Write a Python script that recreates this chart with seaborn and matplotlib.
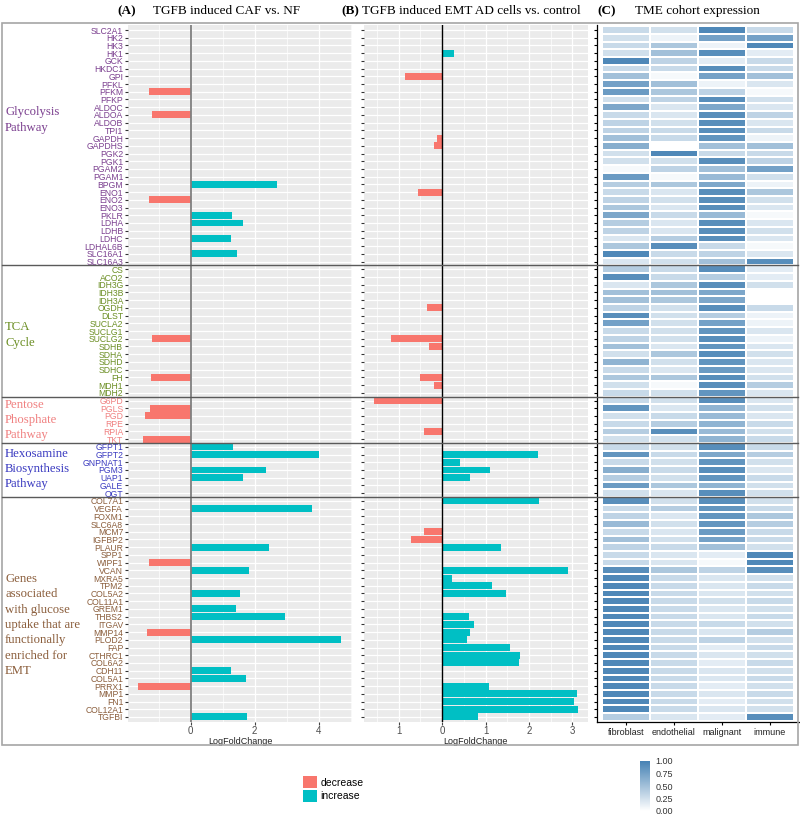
import matplotlib
matplotlib.use("Agg")
import matplotlib.pyplot as plt
import seaborn as sns
import pandas as pd
import numpy as np
from matplotlib.colors import LinearSegmentedColormap
from matplotlib.patches import Patch, Rectangle
from matplotlib.lines import Line2D

# --- gene groups (top to bottom) ---
glyco_genes = ["SLC2A1", "HK2", "HK3", "HK1", "GCK", "HKDC1", "GPI", "PFKL", "PFKM", "PFKP",
               "ALDOC", "ALDOA", "ALDOB", "TPI1", "GAPDH", "GAPDHS", "PGK2", "PGK1", "PGAM2",
               "PGAM1", "BPGM", "ENO1", "ENO2", "ENO3", "PKLR", "LDHA", "LDHB", "LDHC",
               "LDHAL6B", "SLC16A1", "SLC16A3"]
tca_genes = ["CS", "ACO2", "IDH3G", "IDH3B", "IDH3A", "OGDH", "DLST", "SUCLA2", "SUCLG1",
             "SUCLG2", "SDHB", "SDHA", "SDHD", "SDHC", "FH", "MDH1", "MDH2"]
ppp_genes = ["G6PD", "PGLS", "PGD", "RPE", "RPIA", "TKT"]
hex_genes = ["GFPT1", "GFPT2", "GNPNAT1", "PGM3", "UAP1", "GALE", "OGT"]
emt_genes = ["COL7A1", "VEGFA", "FOXM1", "SLC6A8", "MCM7", "IGFBP2", "PLAUR", "SPP1", "WIPF1",
             "VCAN", "MXRA5", "TPM2", "COL5A2", "COL11A1", "GREM1", "THBS2", "ITGAV", "MMP14",
             "PLOD2", "FAP", "CTHRC1", "COL6A2", "CDH11", "COL5A1", "PRRX1", "MMP1", "FN1",
             "COL12A1", "TGFBI"]

group_names = ["Glycolysis\nPathway", "TCA\nCycle", "Pentose\nPhosphate\nPathway",
               "Hexosamine\nBiosynthesis\nPathway",
               "Genes\nassociated\nwith glucose\nuptake that are\nfunctionally\nenriched for\nEMT"]
group_colors = ["#7B3F8F", "#6B8E23", "#F08080", "#3A3AC0", "#8B5E3C"]
groups = [glyco_genes, tca_genes, ppp_genes, hex_genes, emt_genes]

# --- panel A: TGFB induced CAF vs. NF ---
a_genes = ["PFKM", "ALDOA", "BPGM", "ENO2", "PKLR", "LDHA", "LDHC", "SLC16A1", "SUCLG2", "FH",
           "PGLS", "PGD", "TKT", "GFPT1", "GFPT2", "PGM3", "UAP1", "VEGFA", "PLAUR", "WIPF1",
           "VCAN", "COL5A2", "GREM1", "THBS2", "MMP14", "PLOD2", "CDH11", "COL5A1", "PRRX1",
           "TGFBI"]
a_lfc = [-1.30, -1.20, 2.69, -1.30, 1.29, 1.62, 1.26, 1.44, -1.21, -1.24,
         -1.26, -1.43, -1.48, 1.33, 4.02, 2.34, 1.62, 3.79, 2.45, -1.29,
         1.81, 1.54, 1.40, 2.96, -1.37, 4.71, 1.26, 1.72, -1.65, 1.77]

# --- panel B: TGFB induced EMT AD cells vs. control ---
b_genes = ["HK1", "GPI", "GAPDH", "GAPDHS", "ENO1", "OGDH", "SUCLG2", "SDHB", "FH", "MDH1",
           "G6PD", "RPIA", "GFPT2", "GNPNAT1", "PGM3", "UAP1", "COL7A1", "MCM7", "IGFBP2",
           "PLAUR", "VCAN", "MXRA5", "TPM2", "COL5A2", "THBS2", "ITGAV", "MMP14", "PLOD2",
           "FAP", "CTHRC1", "COL6A2", "PRRX1", "MMP1", "FN1", "COL12A1", "TGFBI"]
b_lfc = [0.27, -0.85, -0.12, -0.18, -0.56, -0.35, -1.18, -0.31, -0.51, -0.18,
         -1.57, -0.43, 2.21, 0.41, 1.09, 0.63, 2.22, -0.43, -0.72,
         1.36, 2.90, 0.22, 1.15, 1.46, 0.61, 0.74, 0.63, 0.58,
         1.56, 1.79, 1.76, 1.07, 3.10, 3.03, 3.12, 0.83]

# --- panel C: TME cohort expression (scaled 0..1) ---
cell_types = ["fibroblast", "endothelial", "malignant", "immune"]
fibroblast = [0.30, 0.25, 0.30, 0.25, 0.95, 0.30, 0.50, 0.75, 0.80, 0.25, 0.70, 0.30, 0.35, 0.35,
              0.50, 0.65, 0.25, 0.25, 0.05, 0.80, 0.40, 0.30, 0.35, 0.45, 0.70, 0.40, 0.35, 0.20,
              0.45, 0.95, 0.20,
              0.40, 0.90, 0.20, 0.50, 0.50, 0.35, 0.90, 0.75, 0.30, 0.35, 0.50, 0.25, 0.60, 0.30,
              0.45, 0.25, 0.30,
              0.30, 0.85, 0.25, 0.30, 0.40, 0.25,
              0.30, 0.85, 0.30, 0.65, 0.40, 0.80, 0.25,
              0.90, 0.30, 0.35, 0.55, 0.30, 0.50, 0.35, 0.30, 0.30, 0.90, 0.95, 0.95, 0.95, 0.95,
              0.95, 0.95, 0.95, 0.95, 0.95, 0.95, 0.95, 0.95, 0.95, 0.95, 0.95, 0.95, 0.95, 0.95,
              0.40]
endothelial = [0.25, 0.10, 0.45, 0.50, 0.35, 0.30, 0.05, 0.50, 0.45, 0.35, 0.20, 0.20, 0.25, 0.30,
               0.30, 0.00, 0.95, 0.25, 0.35, 0.05, 0.45, 0.20, 0.25, 0.20, 0.30, 0.20, 0.20, 0.40,
               0.90, 0.30, 0.25,
               0.30, 0.30, 0.45, 0.50, 0.45, 0.25, 0.25, 0.25, 0.25, 0.25, 0.20, 0.45, 0.25, 0.20,
               0.45, 0.05, 0.25,
               0.25, 0.20, 0.30, 0.40, 0.90, 0.25,
               0.25, 0.30, 0.25, 0.30, 0.25, 0.45, 0.20,
               0.25, 0.40, 0.20, 0.25, 0.20, 0.25, 0.30, 0.20, 0.20, 0.45, 0.30, 0.30, 0.30, 0.30,
               0.30, 0.30, 0.30, 0.30, 0.30, 0.30, 0.30, 0.30, 0.30, 0.30, 0.30, 0.30, 0.30, 0.30,
               0.20]
malignant = [0.95, 0.75, 0.10, 0.90, 0.15, 0.90, 0.75, 0.10, 0.35, 0.90, 0.70, 0.90, 0.90, 0.90,
             0.85, 0.50, 0.30, 0.90, 0.50, 0.55, 0.70, 0.90, 0.90, 0.90, 0.55, 0.90, 0.90, 0.90,
             0.30, 0.35, 0.50,
             0.90, 0.40, 0.90, 0.70, 0.70, 0.90, 0.40, 0.75, 0.85, 0.90, 0.85, 0.90, 0.85, 0.80,
             0.90, 0.90, 0.85,
             0.90, 0.60, 0.55, 0.60, 0.55, 0.60,
             0.90, 0.70, 0.85, 0.90, 0.85, 0.60, 0.90,
             0.90, 0.85, 0.85, 0.85, 0.80, 0.75, 0.50, 0.15, 0.05, 0.35, 0.20, 0.20, 0.20, 0.25,
             0.20, 0.20, 0.30, 0.20, 0.35, 0.15, 0.20, 0.15, 0.20, 0.20, 0.15, 0.20, 0.15, 0.20,
             0.15]
immune = [0.30, 0.75, 0.95, 0.15, 0.30, 0.30, 0.50, 0.20, 0.05, 0.25, 0.20, 0.35, 0.20, 0.30,
          0.10, 0.50, 0.30, 0.35, 0.75, 0.25, 0.10, 0.45, 0.25, 0.20, 0.05, 0.20, 0.25, 0.20,
          0.05, 0.20, 0.90,
          0.15, 0.15, 0.25, 0.00, 0.00, 0.30, 0.10, 0.10, 0.20, 0.10, 0.20, 0.25, 0.20, 0.20,
          0.25, 0.40, 0.20,
          0.20, 0.25, 0.20, 0.30, 0.25, 0.30,
          0.30, 0.40, 0.25, 0.20, 0.30, 0.25, 0.25,
          0.25, 0.30, 0.45, 0.40, 0.30, 0.30, 0.25, 0.95, 0.95, 0.90, 0.25, 0.30, 0.25, 0.30,
          0.25, 0.30, 0.25, 0.40, 0.25, 0.30, 0.25, 0.30, 0.25, 0.30, 0.25, 0.30, 0.25, 0.25,
          0.90]

all_genes = [g for grp in groups for g in grp]
gene_color = {g: c for grp, c in zip(groups, group_colors) for g in grp}
pal = {"decrease": "#F8766D", "increase": "#00BFC4"}

df_a = pd.DataFrame({"gene": a_genes, "lfc": a_lfc})
df_a["direction"] = np.where(df_a["lfc"] > 0, "increase", "decrease")
df_b = pd.DataFrame({"gene": b_genes, "lfc": b_lfc})
df_b["direction"] = np.where(df_b["lfc"] > 0, "increase", "decrease")
df_c = pd.DataFrame({"fibroblast": fibroblast, "endothelial": endothelial,
                     "malignant": malignant, "immune": immune}, index=all_genes)[cell_types]

sans = ["Liberation Sans", "DejaVu Sans"]
serif = ["Liberation Serif", "DejaVu Serif"]
plt.rcParams["font.family"] = sans

fig = plt.figure(figsize=(8, 8.18), dpi=100)
W, H = 800.0, 818.0
bot = 1 - 721.6 / H
hgt = (721.6 - 25.4) / H
ax_a = fig.add_axes([128 / W, bot, 224 / W, hgt])
ax_b = fig.add_axes([364 / W, bot, 223.7 / W, hgt])
ax_c = fig.add_axes([597.2 / W, bot, 201.6 / W, hgt])
cax = fig.add_axes([640 / W, 1 - 811 / H, 10 / W, 50 / H])

ylim = (len(all_genes) - 1 + 0.6, -0.6)

for ax, df, xlim in [(ax_a, df_a, (-1.96, 5.04)), (ax_b, df_b, (-1.80, 3.35))]:
    ax.set_facecolor("#EBEBEB")
    sns.barplot(data=df, y="gene", x="lfc", hue="direction", order=all_genes,
                hue_order=["decrease", "increase"], palette=pal, dodge=False, width=0.9,
                saturation=1, legend=False, ax=ax, zorder=3)
    ax.set_ylim(*ylim)
    ax.set_xlim(*xlim)
    ax.set_axisbelow(True)
    ax.grid(True, which="major", color="white", lw=0.9, zorder=0)
    for s in ax.spines.values():
        s.set_visible(False)
    ax.set_ylabel("")
    ax.set_xlabel("LogFoldChange", fontsize=6.5, color="#222222", labelpad=1)
    ax.tick_params(axis="x", length=2, color="#444444", labelsize=7, labelcolor="#4D4D4D", pad=1)
    ax.tick_params(axis="y", length=2.5, color="#333333", pad=1)

ax_a.set_xticks([0, 2, 4])
ax_a.set_xticks([-1, 1, 3, 5], minor=True)
ax_a.axvline(0, color="#7F7F7F", lw=1.3, zorder=4)
ax_a.set_yticks(range(len(all_genes)))
ax_a.set_yticklabels(all_genes, fontsize=6.2)
for lab in ax_a.get_yticklabels():
    lab.set_color(gene_color[lab.get_text()])

ax_b.set_xticks([-1, 0, 1, 2, 3])
ax_b.set_xticklabels(["1", "0", "1", "2", "3"])
ax_b.set_xticks([-1.5, -0.5, 0.5, 1.5, 2.5], minor=True)
ax_b.axvline(0, color="black", lw=1.0, zorder=4)
ax_b.set_yticks(range(len(all_genes)))
ax_b.set_yticklabels([])

for ax in (ax_a, ax_b):
    ax.grid(True, which="minor", axis="x", color="white", lw=0.5, zorder=0)
    ax.tick_params(which="minor", length=0)

# heatmap
cmap = LinearSegmentedColormap.from_list("wb", ["white", "#4682B4"])
sns.heatmap(df_c, ax=ax_c, cmap=cmap, vmin=0, vmax=1, cbar_ax=cax,
            linewidths=0.25, linecolor="white", yticklabels=False)
ax_c.set_xlim(-0.1, 4.1)
ax_c.set_ylim(len(all_genes) + 0.1, -0.1)
ax_c.set_yticks(np.arange(len(all_genes)) + 0.5)
ax_c.set_yticklabels([])
ax_c.set_xticklabels(cell_types, rotation=0, fontsize=6.5, color="#222222")
ax_c.set_xlabel("")
ax_c.set_ylabel("")
for side in ("left", "bottom"):
    ax_c.spines[side].set_visible(True)
    ax_c.spines[side].set_color("black")
    ax_c.spines[side].set_linewidth(0.9)
ax_c.tick_params(axis="both", length=2.5, color="black", pad=2)

cbar = ax_c.collections[0].colorbar
cbar.outline.set_visible(False)
cbar.set_ticks([0, 0.25, 0.5, 0.75, 1.0])
cbar.set_ticklabels(["0.00", "0.25", "0.50", "0.75", "1.00"])
cax.tick_params(length=2, color="white", labelsize=6.5, labelcolor="#333333", pad=2)

# titles
title_y = 1 - 11 / H
for x_lab, lab, x_txt, txt in [(117, "(A)", 153, "TGFB induced CAF vs. NF"),
                               (341, "(B)", 362, "TGFB induced EMT AD cells vs. control"),
                               (597, "(C)", 635, "TME cohort expression")]:
    fig.text(x_lab / W, title_y, lab, family=serif, weight="bold", fontsize=9.5, va="center")
    fig.text(x_txt / W, title_y, txt, family=serif, fontsize=9.5, va="center")

# group labels on the left
for name, col, yc in zip(group_names, group_colors, [120, 335, 420, 469, 625]):
    fig.text(5 / W, 1 - yc / H, name, family=serif, fontsize=9.2, color=col,
             va="center", ha="left", linespacing=1.38)

# group separators across the whole figure
to_fig = ax_a.transData + fig.transFigure.inverted()
for b in [30.5, 47.5, 53.5, 60.5]:
    yf = to_fig.transform((0, b))[1]
    fig.add_artist(Line2D([0.003, 0.997], [yf, yf], transform=fig.transFigure,
                          color="#5A5A5A", lw=1.0))

# outer frame
fig.add_artist(Rectangle((0.002, 1 - 745 / H), 0.996, (745 - 22.7) / H, fill=False,
                         edgecolor="#A6A6A6", lw=1.2, transform=fig.transFigure))

# legend
handles = [Patch(facecolor=pal["decrease"], label="decrease"),
           Patch(facecolor=pal["increase"], label="increase")]
fig.legend(handles=handles, loc="center left", bbox_to_anchor=(298 / W, 1 - 789 / H),
           frameon=False, fontsize=7.5, handlelength=1.35, handleheight=1.35,
           labelspacing=0.2, handletextpad=0.3, borderpad=0)

fig.savefig("out.png", dpi=100)
plt.close(fig)
